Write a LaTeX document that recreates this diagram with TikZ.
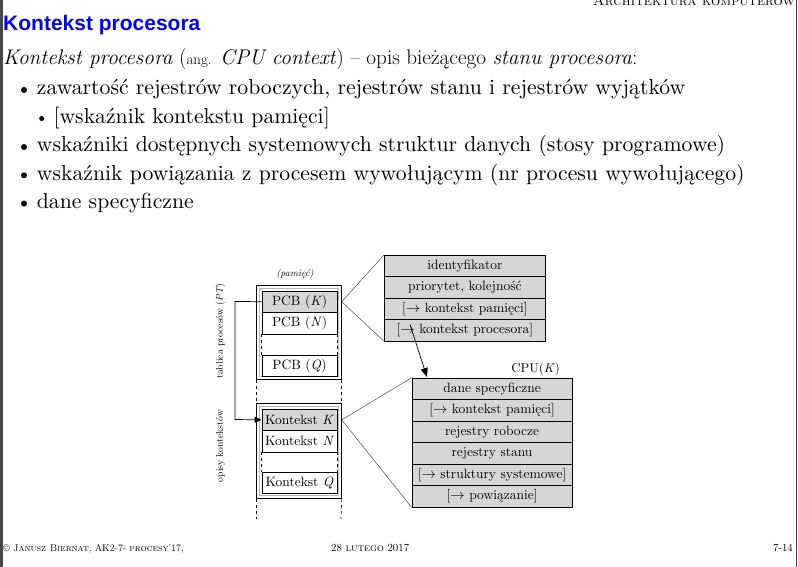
\documentclass[tikz,border=0pt]{standalone}
\usepackage{fontspec}
\newfontfamily\titlefont{Liberation Sans}
% the 10pt design of Latin Modern, used at large sizes for its wider letters
\newfontfamily\widefont{lmroman10-regular.otf}[
  ItalicFont=lmroman10-italic.otf, BoldFont=lmroman10-bold.otf]
\usetikzlibrary{arrows.meta}

% font sizes used on the slide
\newcommand{\bodyfont}{\widefont\fontsize{21.7}{26}\selectfont}
\newcommand{\cellfont}{\widefont\fontsize{13.5}{15}\selectfont}

\tikzset{
  txt/.style={anchor=base west, inner sep=0pt, font=\bodyfont},
  cell/.style={draw=black, line width=0.7pt, anchor=north west, inner sep=0pt,
               minimum width=75pt, minimum height=21.4pt, font=\cellfont},
  shaded/.style={fill=black!16},
  rowbox/.style={draw=black, line width=0.7pt, fill=black!16, anchor=north west,
                 inner sep=0pt, minimum height=21.4pt, font=\cellfont},
  outerbox/.style={draw=black, line width=0.7pt, anchor=north west, inner sep=0pt},
  frame/.style={draw=black!28, line width=0.6pt},
  edge/.style={dashed, line width=0.6pt},
  fan/.style={black!70, line width=0.5pt},
  ptr/.style={line width=0.7pt, -{Triangle[length=7pt,width=6pt]}},
  dot/.style={circle, fill=black, inner sep=0pt},
  sidelabel/.style={rotate=90, inner sep=0pt, font=\widefont\fontsize{9.7}{12}\selectfont},
  foot/.style={inner sep=0pt},
}

\begin{document}
\begin{tikzpicture}[x=1pt,y=-1pt]
\useasboundingbox (0,0) rectangle (798,567);
\fill[white] (0,0) rectangle (798,567);
\fill[black!72] (0,0) rectangle (2.7,567);
\draw[black!75, line width=1pt] (796.5,0) -- (796.5,567);

% running header, cut by the top edge
\begin{scope}
  \clip (0,0) rectangle (798,567);
  \node[anchor=base east, inner sep=0pt, font=\fontsize{14.6}{16}\selectfont\scshape]
    (header) at (795,5.5) {Architektura komputerów};
\end{scope}

% title and text
\node[anchor=base west, inner sep=0pt, text={rgb,255:red,0;green,0;blue,255},
      font=\titlefont\bfseries\fontsize{21}{25}\selectfont] (title) at (3,31) {Kontekst procesora};

\node[anchor=base west, inner sep=0pt, font=\fontsize{21.2}{25}\selectfont] (intro) at (3,65)
  {\textit{Kontekst procesora} ({\fontsize{15}{17}\selectfont ang.} \textit{CPU context}) – opis bieżącego \textit{stanu procesora}:};

\node[dot, minimum size=6pt] (b1) at (24,90) {};
\node[txt] (l1) at (36.7,95) {zawartość rejestrów roboczych, rejestrów stanu i rejestrów wyjątków};
\node[dot, minimum size=5pt] (b2) at (41.7,118.5) {};
\node[txt] (l2) at (53.3,123.3) {[wskaźnik kontekstu pamięci]};
\node[dot, minimum size=6pt] (b3) at (24,147) {};
\node[txt] (l3) at (36.7,151.7) {wskaźniki dostępnych systemowych struktur danych (stosy programowe)};
\node[dot, minimum size=6pt] (b4) at (24,175.3) {};
\node[txt] (l4) at (36.7,180) {wskaźnik powiązania z procesem wywołującym (nr procesu wywołującego)};
\node[dot, minimum size=6pt] (b5) at (24,203.6) {};
\node[txt] (l5) at (36.7,208.3) {dane specyficzne};

% memory column: process table
\node[font=\widefont\fontsize{9.8}{11}\selectfont\itshape, inner sep=0pt] (mem) at (295,274) {(pamięć)};
\node[outerbox, minimum width=85pt, minimum height=94.3pt] (pt) at (256,285) {};
\draw[frame] (259.3,288.3) rectangle (338.4,376.4);
\node[cell, shaded] (pcbK) at (261.7,290.7) {PCB (\textit{K})};
\node[cell] (pcbN) at (261.7,312.1) {PCB (\textit{N})};
\node[cell] (pcbQ) at (261.7,354.6) {PCB (\textit{Q})};
\draw[edge] (pcbN.south west) -- (pcbQ.north west);
\draw[edge] (pcbN.south east) -- (pcbQ.north east);

% memory column: context descriptors
\node[outerbox, minimum width=85pt, minimum height=95pt] (ctx) at (256,403.3) {};
\draw[frame] (259.3,406.6) rectangle (338.4,495.2);
\node[cell, shaded] (ctxK) at (261.7,408.8) {Kontekst \textit{K}};
\node[cell] (ctxN) at (261.7,430.2) {Kontekst \textit{N}};
\node[cell] (ctxQ) at (261.7,472) {Kontekst \textit{Q}};
\draw[edge] (ctxN.south west) -- (ctxQ.north west);
\draw[edge] (ctxN.south east) -- (ctxQ.north east);

% dashed continuation of the memory column
\draw[edge] (pt.south west) -- (ctx.north west);
\draw[edge] (pt.south east) -- (ctx.north east);
\coordinate (colendW) at (256,519);
\coordinate (colendE) at (341,519);
\draw[edge] (ctx.south west) -- (colendW);
\draw[edge] (ctx.south east) -- (colendE);

% side labels
\node[sidelabel] (ptlabel) at (220.5,331) {tablica procesów (\textit{PT})};
\node[sidelabel] (ctxlabel) at (220.5,446) {opisy kontekstów};

% link from PCB(K) to its context
\coordinate (bendA) at (235,301.4);
\coordinate (bendB) at (235,419.5);
\draw[ptr] (pcbK.west) -- (bendA) -- (bendB) -- (ctxK.west);

% process control block
\node[rowbox, minimum width=161pt] (p1) at (384,255) {identyfikator};
\node[rowbox, minimum width=161pt] (p2) at (384,276.4) {priorytet, kolejność};
\node[rowbox, minimum width=161pt] (p3) at (384,297.8) {[$\rightarrow$ kontekst pamięci]};
\node[rowbox, minimum width=161pt] (p4) at (384,319.2) {[$\rightarrow$ kontekst procesora]};
\coordinate (hubPCB) at (pcbK.east -| pt.east);
\draw[fan] (hubPCB) -- (p1.north west);
\draw[fan] (hubPCB) -- (p4.south west);

% processor context
\node[anchor=base east, inner sep=0pt, font=\widefont\fontsize{12.8}{15}\selectfont] (cpuname) at (560,372.3) {CPU(\textit{K})};
\node[rowbox, minimum width=160pt] (c1) at (411.7,377.7) {dane specyficzne};
\node[rowbox, minimum width=160pt] (c2) at (411.7,399.2) {[$\rightarrow$ kontekst pamięci]};
\node[rowbox, minimum width=160pt] (c3) at (411.7,420.7) {rejestry robocze};
\node[rowbox, minimum width=160pt] (c4) at (411.7,442.2) {rejestry stanu};
\node[rowbox, minimum width=160pt] (c5) at (411.7,463.7) {[$\rightarrow$ struktury systemowe]};
\node[rowbox, minimum width=160pt] (c6) at (411.7,485.2) {[$\rightarrow$ powiązanie]};
\coordinate (hubCTX) at (ctxK.east -| ctx.east);
\draw[fan] (hubCTX) -- (c1.north west);
\draw[fan] (hubCTX) -- (c6.south west);

\coordinate (ptrstart) at (410,324.5);
\coordinate (ptrend) at (427,377);
\draw[line width=0.7pt, -{Triangle[length=9pt,width=7pt]}] (ptrstart) -- (ptrend);

% footer
\node[foot, anchor=base west, font=\fontsize{9.8}{12}\selectfont] (foot1) at (3,551.5) {\textcopyright{} \textsc{Janusz Biernat}, AK2-7- \textsc{procesy}'17,};
\node[foot, anchor=base west, font=\fontsize{10.8}{12}\selectfont] (foot2) at (331,551.5) {28 \textsc{lutego} 2017};
\node[foot, anchor=base east, font=\fontsize{10.8}{12}\selectfont] (foot3) at (793,551.5) {7-14};
\end{tikzpicture}
\end{document}
